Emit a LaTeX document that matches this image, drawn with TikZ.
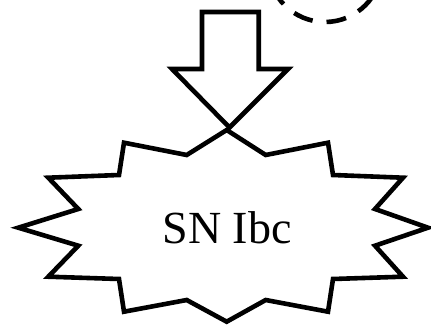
\documentclass[tikz,border=0pt]{standalone}
\usepackage{fontspec}
\setmainfont{Liberation Serif}
\begin{document}
\begin{tikzpicture}[x=1pt,y=-1pt,
  shapeline/.style={draw=black,line width=4.6pt,line join=miter,miter limit=10},
  dashring/.style={draw=black,line width=4.6pt,dash pattern=on 20pt off 14pt}]
\fill[white] (0,0) rectangle (431,326);
\useasboundingbox (0,0) rectangle (431,326);
\begin{scope}
\clip (0,0) rectangle (431,326);
\draw[dashring] (325,-35) circle (57);
\end{scope}
\draw[shapeline] (202,12) -- (258.7,12) -- (258.7,69) -- (288,69) -- (229.5,127.5) -- (172,69) -- (202,69) -- cycle;
\draw[shapeline] (226.7,130) -- (265.7,155) -- (328,142.7) -- (333,175) -- (403,177.7) -- (375,209)
  -- (428,227.7) -- (375,245.7) -- (403,276.7) -- (333,279) -- (328,311.7) -- (265.7,300)
  -- (226.7,321.7) -- (186.7,300) -- (124,311.7) -- (119,279) -- (48.3,276.7) -- (78.3,245.7)
  -- (18.3,227.7) -- (78.3,209) -- (48.3,177.7) -- (119,175) -- (124,142.7) -- (186.7,155) -- cycle;
\node[font=\fontsize{46}{50}\selectfont, inner sep=0pt, anchor=base] (sn) at (227,243) {SN Ibc};
\end{tikzpicture}
\end{document}
